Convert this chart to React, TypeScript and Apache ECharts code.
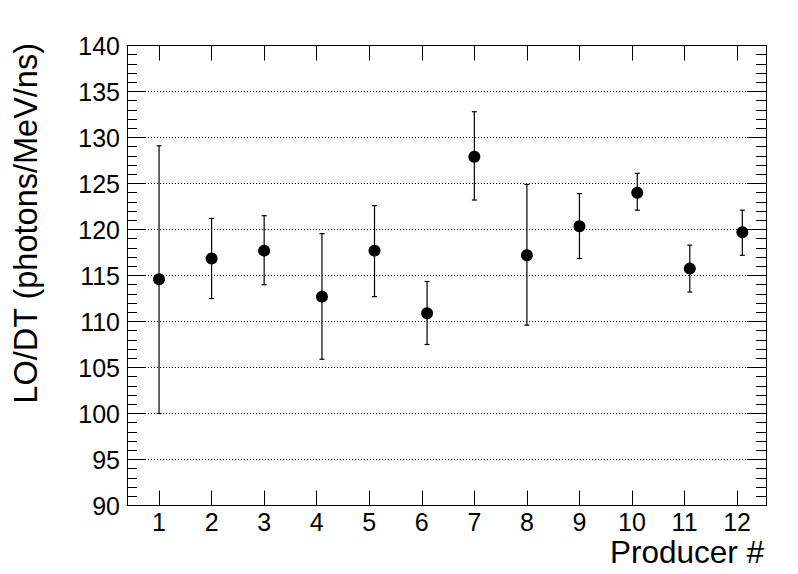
import React, { useEffect, useRef } from "react";
import * as echarts from "echarts";

const producers = [1, 2, 3, 4, 5, 6, 7, 8, 9, 10, 11, 12];
const xPositions = [1, 2, 3, 4.1, 5.1, 6.1, 7, 8, 9, 10.1, 11.1, 12.1];
const loValues = [114.6, 116.85, 117.7, 112.7, 117.7, 110.9, 127.9, 117.2, 120.35, 124.0, 115.75, 119.7];
const errHigh = [129.1, 121.2, 121.5, 119.55, 122.6, 114.35, 132.8, 124.9, 123.9, 126.1, 118.3, 122.1];
const errLow = [100.0, 112.5, 114.0, 105.9, 112.7, 107.5, 123.2, 109.6, 116.85, 122.1, 113.2, 117.2];
const yTitle = "LO/DT (photons/MeV/ns)";
const xTitle = "Producer #";

const FONT = "'Liberation Sans', Arial, Helvetica, sans-serif";

export default function App() {
  const ref = useRef<HTMLDivElement>(null);
  useEffect(() => {
    if (!ref.current) return;
    const chart = echarts.init(ref.current, undefined, { renderer: "svg" });
    const xCommon = {
      type: "value",
      min: 0.39,
      max: 12.55,
      axisLine: { show: true, onZero: false, lineStyle: { color: "#000", width: 1 } },
      axisTick: { show: true, inside: true, length: 15, customValues: producers, lineStyle: { color: "#000", width: 1 } },
      splitLine: { show: false },
      minorTick: { show: false },
    };
    const yCommon = {
      type: "value",
      min: 90,
      max: 140,
      interval: 5,
      axisLine: { show: true, onZero: false, lineStyle: { color: "#000", width: 1 } },
      axisTick: { show: true, inside: true, length: 19, lineStyle: { color: "#000", width: 1 } },
      minorTick: { show: true, splitNumber: 5, length: 10, lineStyle: { color: "#000", width: 1 } },
    };
    chart.setOption({
      animation: false,
      backgroundColor: "#fff",
      grid: { left: 127, right: 32, top: 45.5, bottom: 68.5, containLabel: false },
      xAxis: [
        {
          ...xCommon,
          position: "bottom",
          axisLabel: { show: true, customValues: producers, fontSize: 25, color: "#000", fontFamily: FONT, margin: 4 },
        },
        {
          ...xCommon,
          position: "top",
          axisLabel: { show: false },
        },
      ],
      yAxis: [
        {
          ...yCommon,
          position: "left",
          axisLabel: { show: true, fontSize: 25, color: "#000", fontFamily: FONT, margin: 7 },
          splitLine: { show: true, lineStyle: { color: "#000", width: 1, type: [1, 2] } },
        },
        {
          ...yCommon,
          position: "right",
          axisLabel: { show: false },
          splitLine: { show: false },
        },
      ],
      graphic: [
        {
          type: "text",
          x: 26,
          y: 43,
          rotation: Math.PI / 2,
          style: { text: yTitle, font: `32.5px ${FONT}`, fill: "#000", align: "right", verticalAlign: "middle" },
        },
        {
          type: "text",
          x: 764,
          y: 552,
          style: { text: xTitle, font: `31.5px ${FONT}`, fill: "#000", align: "right", verticalAlign: "middle" },
        },
      ],
      series: [
        {
          type: "custom",
          xAxisIndex: 0,
          yAxisIndex: 0,
          z: 2,
          data: xPositions.map((x, i) => [x, errLow[i], errHigh[i]]),
          renderItem: (params: any, api: any) => {
            const x = api.value(0);
            const lo = api.coord([x, api.value(1)]);
            const hi = api.coord([x, api.value(2)]);
            const cap = 2.5;
            const st = { stroke: "#000", lineWidth: 1.2 };
            return {
              type: "group",
              children: [
                { type: "line", shape: { x1: lo[0], y1: lo[1], x2: hi[0], y2: hi[1] }, style: st },
                { type: "line", shape: { x1: lo[0] - cap, y1: lo[1], x2: lo[0] + cap, y2: lo[1] }, style: st },
                { type: "line", shape: { x1: hi[0] - cap, y1: hi[1], x2: hi[0] + cap, y2: hi[1] }, style: st },
              ],
            };
          },
        },
        {
          type: "scatter",
          xAxisIndex: 0,
          yAxisIndex: 0,
          z: 3,
          symbol: "circle",
          symbolSize: 12,
          itemStyle: { color: "#000", opacity: 1 },
          data: xPositions.map((x, i) => [x, loValues[i]]),
        },
      ],
    });
    return () => chart.dispose();
  }, []);
  return (
    <div
      ref={ref}
      style={{ position: "fixed", left: 0, top: 0, width: 798, height: 574, background: "#fff" }}
    />
  );
}
